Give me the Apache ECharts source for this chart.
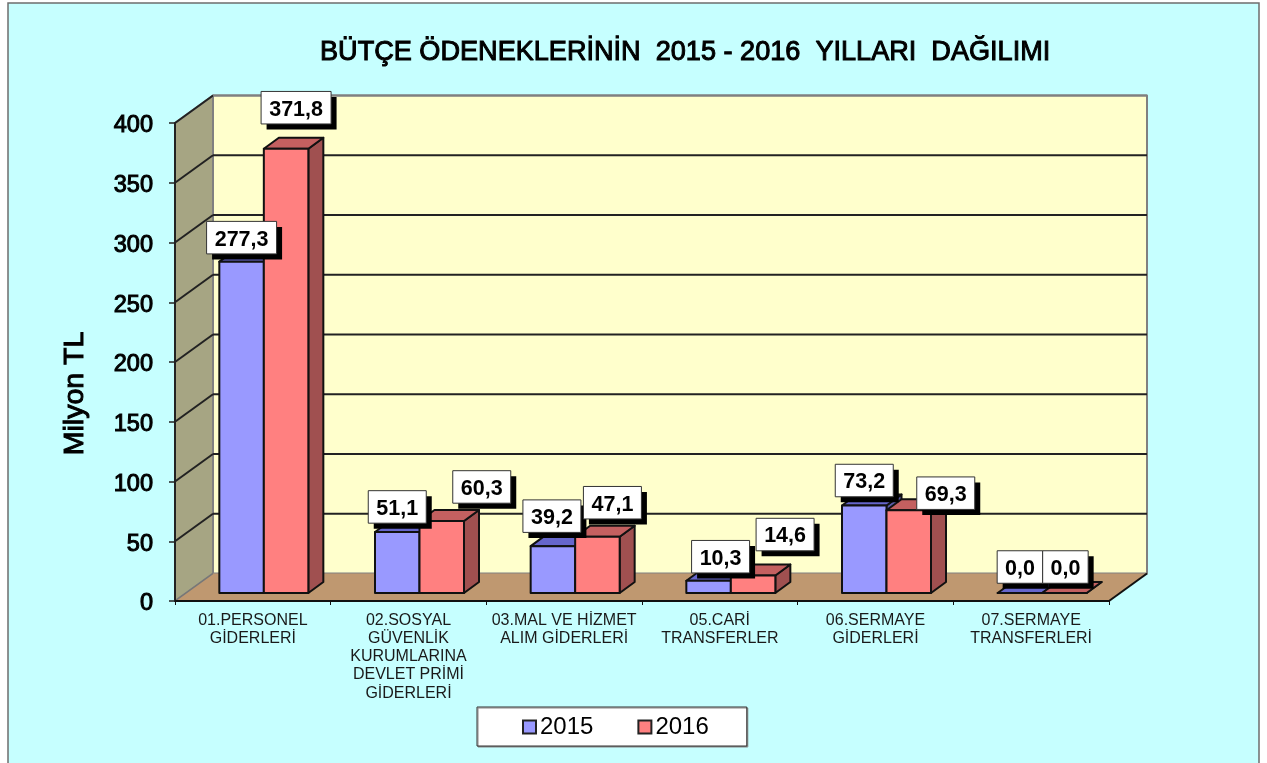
<!DOCTYPE html>
<html><head><meta charset="utf-8">
<style>html,body{margin:0;padding:0;background:#fff}#c{width:1267px;height:763px}</style>
<script src="https://cdn.jsdelivr.net/npm/echarts@6/dist/echarts.min.js"></script>
</head><body><div id="c"></div>
<script>
const titleText = 'BÜTÇE ÖDENEKLERİNİN  2015 - 2016  YILLARI  DAĞILIMI';
const axisName = 'Milyon TL';
const categories = ['01.PERSONEL\nGİDERLERİ','02.SOSYAL\nGÜVENLİK\nKURUMLARINA\nDEVLET PRİMİ\nGİDERLERİ','03.MAL VE HİZMET\nALIM GİDERLERİ','05.CARİ\nTRANSFERLER','06.SERMAYE\nGİDERLERİ','07.SERMAYE\nTRANSFERLERİ'];
const years = ['2015','2016'];
const values2015 = [277.3,51.1,39.2,10.3,73.2,0.0];
const values2016 = [371.8,60.3,47.1,14.6,69.3,0.0];
const gridValues = [0,50,100,150,200,250,300,350,400];

// label placement relative to each bar's top (hand-placed in the original)
const shift2015 = [[0,-24],[0,-25],[-1,-30],[12,-24],[0,-25],[0,-26]];
const shift2016 = [[10,-41],[40,-34],[15,-34],[32,-41],[37,-17],[1,-26]];
const WALL = {dx:38, dy:-27.5};
const BARF = {dx:11, dy:-8};
const BARB = {dx:26, dy:-19};
const BARW = 44.5;
const FONT = '"Liberation Sans",Arial,sans-serif';

const poly = (pts, fill, stroke, lw) => ({type:'polygon', shape:{points:pts},
  style:{fill, stroke:stroke||'none', lineWidth:lw||0, lineJoin:'round'}});

function wallsItem(params, api){
  const cs = params.coordSys;
  const L = cs.x, R = cs.x+cs.width, B = api.coord([0,0])[1], T = api.coord([0,400])[1];
  const d = WALL;
  return {type:'group', children:[
    poly([[L+d.dx,T+d.dy],[R+d.dx,T+d.dy],[R+d.dx,B+d.dy],[L+d.dx,B+d.dy]],'#FFFFCC','#808080',2),
    poly([[L,T],[L+d.dx,T+d.dy],[L+d.dx,B+d.dy],[L,B]],'#A6A583','#808080',2),
    poly([[L,B],[L+d.dx,B+d.dy],[R+d.dx,B+d.dy],[R,B]],'#BF9870'),
    {type:'polyline',shape:{points:[[R,B],[R+d.dx,B+d.dy]]},style:{stroke:'#111',lineWidth:2,fill:'none'}},
    {type:'polyline',shape:{points:[[L,B],[L+d.dx,B+d.dy]]},style:{stroke:'#777',lineWidth:1.5,fill:'none'}}
  ]};
}
function gridItem(params, api){
  const cs = params.coordSys, v = api.value(0);
  if (v===0) return {type:'group',children:[]};
  const y = api.coord([0,v])[1], L = cs.x, R = cs.x+cs.width, d = WALL;
  const top = v===400;
  return {type:'group',children:[
    {type:'polyline',shape:{points:[[L,y],[L+d.dx,y+d.dy]]},style:{stroke:'#222',lineWidth:2,fill:'none'}},
    {type:'polyline',shape:{points:[[L+d.dx,y+d.dy],[R+d.dx,y+d.dy]]},style:{stroke:top?'#808080':'#222',lineWidth:2,fill:'none'}}
  ]};
}
function barItem(front, top, side){
  return function(params, api){
    const i = api.value(0), v = api.value(1), off = api.value(2);
    const p = api.coord([i,v]), b = api.coord([i,0]);
    const cx = p[0]+BARF.dx+off*BARW/2;
    const l = cx-BARW/2, r = cx+BARW/2, yT = p[1]+BARF.dy, yB = b[1]+BARF.dy;
    const ox = BARB.dx-BARF.dx, oy = BARB.dy-BARF.dy, k='#111';
    return {type:'group',children:[
      poly([[r,yB],[r+ox,yB+oy],[r+ox,yT+oy],[r,yT]],side,k,2),
      poly([[l,yT],[l+ox,yT+oy],[r+ox,yT+oy],[r,yT]],top,k,2),
      poly([[l,yT],[r,yT],[r,yB],[l,yB]],front,k,2)
    ]};
  };
}
const fmt = v => v.toFixed(1).replace('.',',');
function labelItem(shifts){
  return function(params, api){
    const i = api.value(0), v = api.value(1), off = api.value(2);
    const p = api.coord([i,v]);
    const s = shifts[i];
    const cx = p[0]+BARF.dx+off*BARW/2+s[0], cy = p[1]+BARF.dy+s[1];
    const txt = fmt(v);
    const w = txt.length>=5 ? 70 : (v===0 ? 45.5 : 58), h = 32.5;
    return {type:'group',children:[
      {type:'rect',shape:{x:cx-w/2+5.5,y:cy-h/2+5.5,width:w,height:h},style:{fill:'#000'}},
      {type:'rect',shape:{x:cx-w/2,y:cy-h/2,width:w,height:h},style:{fill:'#fff',stroke:'#333',lineWidth:1}},
      {type:'text',style:{x:cx,y:cy+2,text:txt,align:'center',verticalAlign:'middle',fill:'#000',
        font:'bold 21.5px "Liberation Sans", Arial, sans-serif'}}
    ]};
  };
}
const rows = (vals, off) => vals.map((v,i)=>[i,v,off]);
const customBase = {type:'custom', animation:false, silent:true, clip:false, encode:{x:0,y:1}};

const chart = echarts.init(document.getElementById('c'), null, {renderer:'canvas'});
chart.setOption({
  animation:false,
  backgroundColor:'#fff',
  graphic:[{type:'rect',z:-10,shape:{x:8,y:3,width:1251,height:780},style:{fill:'#C6FFFF',stroke:'#6E6E6E',lineWidth:1.5}}],
  title:{text:titleText,left:320,top:39,padding:0,textStyle:{fontFamily:FONT,fontWeight:'normal',fontSize:27.1,color:'#000',textBorderColor:'#000',textBorderWidth:1}},
  legend:{data:years,left:477,top:707,padding:[8,38,7,45],itemGap:44,itemWidth:13,itemHeight:13,icon:'rect',
    backgroundColor:'#fff',borderColor:'#333',borderWidth:1,borderRadius:0,shadowColor:'#888',shadowOffsetX:1,shadowOffsetY:1,shadowBlur:0,
    itemStyle:{borderColor:'#222',borderWidth:2},
    textStyle:{fontFamily:FONT,fontSize:24,color:'#000',padding:[0,0,0,-1]}},
  grid:{left:175,right:158,top:123,bottom:162,containLabel:false},
  xAxis:{type:'category',data:categories,z:3,
    axisLine:{lineStyle:{color:'#111',width:2}},
    axisTick:{show:true,length:4,lineStyle:{color:'#111',width:1}},
    axisLabel:{interval:0,margin:10,fontFamily:FONT,fontSize:16,lineHeight:18.3,color:'#1a1a1a'},
    splitLine:{show:false}},
  yAxis:{type:'value',min:0,max:400,interval:50,z:3,name:axisName,nameLocation:'middle',nameRotate:90,nameGap:85,
    nameTextStyle:{fontFamily:FONT,fontWeight:'normal',fontSize:28.5,color:'#000',textBorderColor:'#000',textBorderWidth:1,padding:[0,63,0,0]},
    axisLine:{show:true,lineStyle:{color:'#222',width:2}},
    axisTick:{show:true,length:6,lineStyle:{color:'#222',width:1.5}},
    axisLabel:{margin:22,verticalAlign:'top',lineHeight:6,fontFamily:FONT,fontWeight:'normal',fontSize:23.5,color:'#000',textBorderColor:'#000',textBorderWidth:1},
    splitLine:{show:false}},
  series:[
    {...customBase,name:'walls',z:1,data:[[0,0]],renderItem:wallsItem},
    {...customBase,name:'gridlines',z:2,data:gridValues.map(v=>[v]),encode:{y:0},renderItem:gridItem},
    {...customBase,name:years[0],z:4,data:rows(values2015,-1),itemStyle:{color:'#9999FF'},renderItem:barItem('#9999FF','#6666CC','#5C5CA8')},
    {...customBase,name:years[1],z:5,data:rows(values2016,1),itemStyle:{color:'#FF8080'},renderItem:barItem('#FF8080','#C46060','#A05050')},
    {...customBase,name:'labels2015',z:6,data:rows(values2015,-1),renderItem:labelItem(shift2015)},
    {...customBase,name:'labels2016',z:7,data:rows(values2016,1),renderItem:labelItem(shift2016)}
  ]
});
</script></body></html>
